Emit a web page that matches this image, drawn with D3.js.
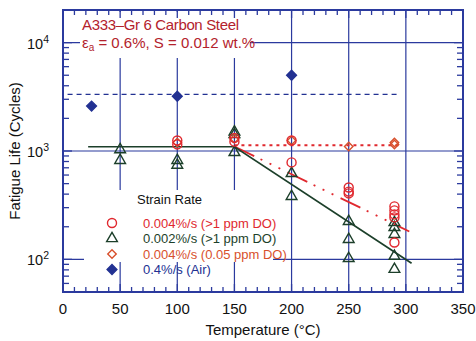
<!DOCTYPE html>
<html>
<head>
<meta charset="utf-8">
<script src="https://cdn.jsdelivr.net/npm/d3@7"></script>
<style>
  body { margin: 0; background: #fff; }
  svg { display: block; font-family: "Liberation Sans", Arial, sans-serif; }
</style>
</head>
<body>
<svg id="chart" width="476" height="341"></svg>
<script>
// ---- data ----
const xTicks = [0, 50, 100, 150, 200, 250, 300, 350];
const yDecades = [100, 1000, 10000];

// 0.004%/s (>1 ppm DO) - open circles
const circT = [100, 100, 150, 150, 200, 200, 250, 250, 250, 290, 290, 290, 290, 290];
const circN = [1150, 1250, 1320, 1220, 1250, 785, 460, 422, 406, 308, 283, 260, 244, 143];

// 0.002%/s (>1 ppm DO) - open triangles
const triT = [50, 50, 100, 100, 150, 150, 150, 200, 200, 250, 250, 250, 290, 290, 290, 290, 290];
const triN = [1030, 820, 820, 740, 1500, 1420, 970, 621, 381, 224, 153, 102, 219, 197, 170, 107, 81];

// 0.004%/s (0.05 ppm DO) - open diamonds
const diaT = [100, 150, 200, 250, 290, 290];
const diaN = [1200, 1300, 1250, 1100, 1200, 1150];

// 0.4%/s (Air) - filled diamonds
const airT = [25, 100, 200];
const airN = [2600, 3200, 5000];

// trend lines
const airMean = [[4, 3330], [292, 3330]];
const fit002 = [[22, 1095], [150, 1095], [305, 92]];
const fit004 = [[150, 1100], [303, 181]];
const fitLowDO = [[150, 1130], [295, 1130]];

const legendItems = [
  {label: "0.004%/s (>1 ppm DO)", sym: "circle"},
  {label: "0.002%/s (>1 ppm DO)", sym: "triangle"},
  {label: "0.004%/s (0.05 ppm DO)", sym: "diamond"},
  {label: "0.4%/s (Air)", sym: "air"}
];

// ---- styling ----
const blue = "#2b3a9e", red = "#e0282e", green = "#1c3f2a", orange = "#d8502c", navy = "#223192";
const colorOf = {circle: red, triangle: green, diamond: orange, air: navy};

const svg = d3.select("#chart");
const pL = 63, pR = 463, pT = 10, pB = 292;

const x = d3.scaleLinear().domain([0, 350]).range([pL, pR]);
const y = d3.scaleLog().domain([50, 20000]).range([pB, pT]);

// grid lines
const grid = svg.append("g").attr("stroke", blue).attr("stroke-width", 1.2);
grid.selectAll("line.v").data(xTicks.filter(d => d > 0 && d < 350)).join("line")
  .attr("x1", d => x(d)).attr("x2", d => x(d)).attr("y1", pT).attr("y2", pB);
grid.selectAll("line.h").data(yDecades).join("line")
  .attr("x1", pL).attr("x2", pR).attr("y1", d => y(d)).attr("y2", d => y(d));

// white boxes behind the annotation and legend (they hide the grid in the original)
svg.append("rect").attr("x", 80).attr("y", 12).attr("width", 170).attr("height", 46).attr("fill", "#fff");
svg.append("rect").attr("x", 84).attr("y", 190).attr("width", 189).attr("height", 72).attr("fill", "#fff");

// ticks (inward, all four sides)
const ticks = svg.append("g").attr("stroke", blue).attr("stroke-width", 1.3);
const xMinor = d3.range(0, 351, 10);
ticks.selectAll("line.xb").data(xMinor).join("line")
  .attr("x1", d => x(d)).attr("x2", d => x(d)).attr("y1", pB).attr("y2", d => pB - (d % 50 ? 5 : 8));
ticks.selectAll("line.xt").data(xMinor).join("line")
  .attr("x1", d => x(d)).attr("x2", d => x(d)).attr("y1", pT).attr("y2", d => pT + (d % 50 ? 5 : 8));
const yMinor = [];
[10, 100, 1000, 10000].forEach(dec => d3.range(1, 10).forEach(m => {
  const v = dec * m;
  if (v >= 50 && v <= 20000) yMinor.push(v);
}));
ticks.selectAll("line.yl").data(yMinor).join("line")
  .attr("x1", pL).attr("x2", d => pL + (yDecades.includes(d) ? 9 : 6)).attr("y1", d => y(d)).attr("y2", d => y(d));
ticks.selectAll("line.yr").data(yMinor).join("line")
  .attr("x1", pR).attr("x2", d => pR - (yDecades.includes(d) ? 9 : 6)).attr("y1", d => y(d)).attr("y2", d => y(d));

// frame
svg.append("rect").attr("x", pL).attr("y", pT).attr("width", pR - pL).attr("height", pB - pT)
  .attr("fill", "none").attr("stroke", blue).attr("stroke-width", 2);

// tick labels
svg.append("g").selectAll("text").data(xTicks).join("text")
  .attr("x", d => x(d)).attr("y", 314).attr("text-anchor", "middle")
  .attr("font-size", 15).attr("fill", "#111").text(d => d);

const yl = svg.append("g").selectAll("text").data(yDecades).join("text")
  .attr("x", 49).attr("y", d => y(d) + 6).attr("text-anchor", "end")
  .attr("font-size", 14.5).attr("fill", "#111");
yl.append("tspan").text("10");
yl.append("tspan").attr("font-size", 10.5).attr("dy", -6).text(d => Math.round(Math.log10(d)));

// axis titles
svg.append("text").attr("x", x(175)).attr("y", 335).attr("text-anchor", "middle")
  .attr("font-size", 15).attr("fill", "#111").text("Temperature (°C)");
svg.append("text").attr("transform", `translate(20,${(pT + pB) / 2}) rotate(-90)`)
  .attr("text-anchor", "middle").attr("font-size", 15).attr("fill", "#111").text("Fatigue Life (Cycles)");

// annotation
const ann = svg.append("g").attr("fill", "#b3222c").attr("font-size", 15);
ann.append("text").attr("x", 82).attr("y", 30).attr("textLength", 157).text("A333–Gr 6 Carbon Steel");
const l2 = ann.append("text").attr("x", 82).attr("y", 48);
l2.append("tspan").text("ε");
l2.append("tspan").attr("font-size", 10).attr("dy", 3).text("a");
l2.append("tspan").attr("dy", -3).text(" = 0.6%, S = 0.012 wt.%");

// trend lines
const line = d3.line().x(d => x(d[0])).y(d => y(d[1]));
svg.append("path").attr("d", line(airMean)).attr("fill", "none").attr("stroke", navy)
  .attr("stroke-width", 1.2).attr("stroke-dasharray", "5,4");
svg.append("path").attr("d", line(fitLowDO)).attr("fill", "none").attr("stroke", red)
  .attr("stroke-width", 1.8).attr("stroke-dasharray", "3,4");
svg.append("path").attr("d", line(fit004)).attr("fill", "none").attr("stroke", red)
  .attr("stroke-width", 1.8).attr("stroke-dasharray", "22,7,2,8,2,8,2,8");
svg.append("path").attr("d", line(fit002)).attr("fill", "none").attr("stroke", green)
  .attr("stroke-width", 1.7);

// markers (diamonds are squares turned 45 degrees)
const sym = {
  circle: {gen: d3.symbol().type(d3.symbolCircle).size(64), rot: 0},
  triangle: {gen: d3.symbol().type(d3.symbolTriangle).size(50), rot: 0},
  diamond: {gen: d3.symbol().type(d3.symbolSquare).size(36), rot: 45},
  air: {gen: d3.symbol().type(d3.symbolSquare).size(48), rot: 45}
};
function drawMarkers(ts, ns, kind) {
  svg.append("g").selectAll("path").data(ts.map((t, i) => [t, ns[i]])).join("path")
    .attr("d", sym[kind].gen())
    .attr("transform", d => `translate(${x(d[0])},${y(d[1])}) rotate(${sym[kind].rot})`)
    .attr("fill", kind === "air" ? navy : "none")
    .attr("stroke", colorOf[kind]).attr("stroke-width", 1.4);
}
drawMarkers(triT, triN, "triangle");
drawMarkers(diaT, diaN, "diamond");
drawMarkers(circT, circN, "circle");
drawMarkers(airT, airN, "air");

// legend
const lg = svg.append("g");
lg.append("text").attr("x", 137).attr("y", 204).attr("font-size", 13).attr("fill", "#111").text("Strain Rate");
const rows = lg.selectAll("g.row").data(legendItems).join("g")
  .attr("transform", (d, i) => `translate(112,${223 + i * 15.5})`);
rows.append("path").attr("d", d => sym[d.sym].gen())
  .attr("transform", d => `rotate(${sym[d.sym].rot})`)
  .attr("fill", d => d.sym === "air" ? navy : "none")
  .attr("stroke", d => colorOf[d.sym]).attr("stroke-width", 1.4);
rows.append("text").attr("x", 31).attr("y", 4.5).attr("font-size", 13)
  .attr("fill", d => colorOf[d.sym]).text(d => d.label);
</script>
</body>
</html>
